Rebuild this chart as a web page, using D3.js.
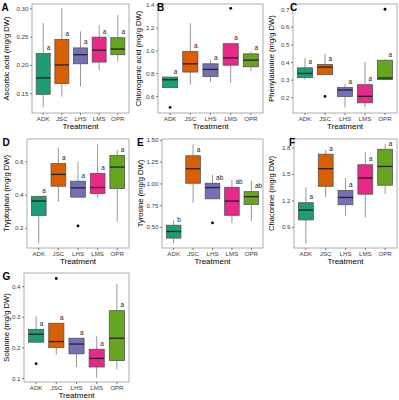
<!DOCTYPE html>
<html>
<head>
<meta charset="utf-8">
<script src="https://cdn.jsdelivr.net/npm/d3@7"></script>
<style>
  body { margin: 0; background: #fff; }
  svg { font-family: "Liberation Sans", Arial, sans-serif; }
</style>
</head>
<body>
<svg id="chart" width="399" height="400"></svg>
<script>
// treatments on every x axis
const treatments = ['ADK', 'JSC', 'LHS', 'LMS', 'OPR'];
const colors = ['#1B9E77', '#D95F02', '#7570B3', '#E7298A', '#66A61E'];

// box stats per treatment: [lower whisker, q1, median, q3, upper whisker]
const ascorbicStats = [
  [0.125, 0.148, 0.177, 0.220, 0.274],
  [0.144, 0.167, 0.200, 0.245, 0.300],
  [0.162, 0.202, 0.218, 0.230, 0.259],
  [0.191, 0.205, 0.226, 0.249, 0.270],
  [0.206, 0.218, 0.228, 0.248, 0.288]
];
const ascorbicOutliers = [[], [], [], [], []];
const ascorbicLetters = ['a', 'a', 'a', 'a', 'a'];

const chlorogenicStats = [
  [0.675, 0.675, 0.744, 0.767, 0.767],
  [0.700, 0.811, 0.883, 0.990, 1.238],
  [0.725, 0.771, 0.834, 0.883, 0.918],
  [0.716, 0.871, 0.935, 1.059, 1.059],
  [0.820, 0.857, 0.915, 0.970, 0.990]
];
const chlorogenicOutliers = [[0.502], [], [], [1.368], []];
const chlorogenicLetters = ['a', 'a', 'a', 'a', 'a'];

const phenylalanineStats = [
  [0.300, 0.311, 0.335, 0.367, 0.424],
  [0.328, 0.328, 0.371, 0.386, 0.446],
  [0.142, 0.204, 0.241, 0.255, 0.277],
  [0.142, 0.168, 0.205, 0.271, 0.400],
  [0.296, 0.300, 0.309, 0.410, 0.414]
];
const phenylalanineOutliers = [[], [0.204], [], [], [0.700]];
const phenylalanineLetters = ['a', 'a', 'a', 'a', 'a'];

const tryptophanStats = [
  [0.106, 0.275, 0.362, 0.390, 0.394],
  [0.357, 0.451, 0.522, 0.588, 0.684],
  [0.385, 0.385, 0.441, 0.481, 0.600],
  [0.380, 0.407, 0.443, 0.528, 0.704],
  [0.238, 0.437, 0.566, 0.636, 0.670]
];
const tryptophanOutliers = [[], [], [0.212], [], []];
const tryptophanLetters = ['a', 'a', 'a', 'a', 'a'];

const tyrosineStats = [
  [0.310, 0.371, 0.447, 0.519, 0.576],
  [0.778, 1.002, 1.169, 1.318, 1.451],
  [0.823, 0.823, 0.952, 1.002, 1.100],
  [0.545, 0.633, 0.797, 0.956, 1.040],
  [0.568, 0.759, 0.848, 0.905, 1.034]
];
const tyrosineOutliers = [[], [], [0.545], [], []];
const tyrosineLetters = ['b', 'a', 'ab', 'ab', 'ab'];

const chaconineStats = [
  [0.713, 0.979, 1.091, 1.174, 1.350],
  [1.238, 1.361, 1.560, 1.725, 1.774],
  [1.024, 1.151, 1.234, 1.313, 1.455],
  [1.005, 1.271, 1.455, 1.605, 1.748],
  [1.275, 1.373, 1.586, 1.781, 1.838]
];
const chaconineOutliers = [[], [], [], [], []];
const chaconineLetters = ['a', 'a', 'a', 'a', 'a'];

const solanineStats = [
  [0.217, 0.217, 0.243, 0.259, 0.302],
  [0.176, 0.199, 0.219, 0.279, 0.279],
  [0.136, 0.179, 0.211, 0.230, 0.231],
  [0.101, 0.136, 0.164, 0.194, 0.237],
  [0.128, 0.157, 0.230, 0.320, 0.407]
];
const solanineOutliers = [[0.147], [0.425], [], [], []];
const solanineLetters = ['a', 'a', 'a', 'a', 'a'];

// y tick labels
const ascorbicTicks = [0.15, 0.20, 0.25, 0.30];
const chlorogenicTicks = [0.6, 0.8, 1.0, 1.2, 1.4];
const phenylalanineTicks = [0.2, 0.3, 0.4, 0.5, 0.6, 0.7];
const tryptophanTicks = [0.2, 0.4, 0.6];
const tyrosineTicks = [0.50, 0.75, 1.00, 1.25, 1.50];
const chaconineTicks = [0.9, 1.2, 1.5, 1.8];
const solanineTicks = [0.1, 0.2, 0.3, 0.4];

const panels = [
  {tag: 'A', title: 'Ascorbic acid (mg/g DW)', stats: ascorbicStats, outliers: ascorbicOutliers, letters: ascorbicLetters, ticks: ascorbicTicks, fmt: '.2f', domain: [0.115, 0.3076], col: 0, row: 0, left: 32, tagX: 1.5, titleX: 9},
  {tag: 'B', title: 'Chlorogenic acid (mg/g DW)', stats: chlorogenicStats, outliers: chlorogenicOutliers, letters: chlorogenicLetters, ticks: chlorogenicTicks, fmt: '.1f', domain: [0.453, 1.406], col: 1, row: 0, left: 158, tagX: 157, titleX: 140.5},
  {tag: 'C', title: 'Phenylalanine (mg/g DW)', stats: phenylalanineStats, outliers: phenylalanineOutliers, letters: phenylalanineLetters, ticks: phenylalanineTicks, fmt: '.1f', domain: [0.11, 0.73], col: 2, row: 0, left: 293, tagX: 290, titleX: 273.5},
  {tag: 'D', title: 'Tryptophan (mg/g DW)', stats: tryptophanStats, outliers: tryptophanOutliers, letters: tryptophanLetters, ticks: tryptophanTicks, fmt: '.1f', domain: [0.079, 0.735], col: 0, row: 1, left: 27, tagX: 2.5, titleX: 9},
  {tag: 'E', title: 'Tyrosine (mg/g DW)', stats: tyrosineStats, outliers: tyrosineOutliers, letters: tyrosineLetters, ticks: tyrosineTicks, fmt: '.2f', domain: [0.257, 1.511], col: 1, row: 1, left: 162, tagX: 137, titleX: 142.5},
  {tag: 'F', title: 'Chaconine (mg/g DW)', stats: chaconineStats, outliers: chaconineOutliers, letters: chaconineLetters, ticks: chaconineTicks, fmt: '.1f', domain: [0.66, 1.8975], col: 2, row: 1, left: 294, tagX: 289, titleX: 273.5},
  {tag: 'G', title: 'Solanine (mg/g DW)', stats: solanineStats, outliers: solanineOutliers, letters: solanineLetters, ticks: solanineTicks, fmt: '.1f', domain: [0.087, 0.443], col: 0, row: 2, left: 24, tagX: 2.5, titleX: 9}
];

const colX = [0, 134, 268];
const rowY = [0, 135, 269];
const svg = d3.select('#chart');

const drawPanel = (p) => {
  const cx = colX[p.col];
  const cy = rowY[p.row];
  const left = p.left;
  const right = cx + 129;
  const top = cy + 4;
  const bottom = cy + 113;

  const x = d3.scaleBand()
    .domain(treatments)
    .range([left, right])
    .paddingOuter(0.1)
    .paddingInner(0);
  const bw = x.bandwidth() * 0.75;
  const y = d3.scaleLinear().domain(p.domain).range([bottom, top]);

  const g = svg.append('g').attr('class', 'panel');

  // frame
  g.append('rect')
    .attr('x', left).attr('y', top)
    .attr('width', right - left).attr('height', bottom - top)
    .attr('fill', 'none')
    .attr('stroke', '#9a9a9a')
    .attr('stroke-width', 0.8);

  // y axis
  const yAxis = g.append('g')
    .attr('transform', `translate(${left},0)`)
    .call(d3.axisLeft(y).tickValues(p.ticks).tickFormat(d3.format(p.fmt)).tickSize(2).tickPadding(1.5));
  yAxis.select('.domain').remove();
  yAxis.selectAll('line').attr('stroke', '#333').attr('stroke-width', 0.6);
  yAxis.selectAll('text').attr('font-size', 6.2).attr('fill', '#3d3d3d').attr('font-family', null);

  // x axis
  const xAxis = g.append('g')
    .attr('transform', `translate(0,${bottom})`)
    .call(d3.axisBottom(x).tickSize(2).tickPadding(1.5));
  xAxis.select('.domain').remove();
  xAxis.selectAll('line').attr('stroke', '#333').attr('stroke-width', 0.6);
  xAxis.selectAll('text').attr('font-size', 6.2).attr('fill', '#3d3d3d').attr('font-family', null);

  // axis titles
  g.append('text')
    .attr('x', (left + right) / 2)
    .attr('y', bottom + 16)
    .attr('text-anchor', 'middle')
    .attr('font-size', 8)
    .text('Treatment');
  g.append('text')
    .attr('transform', `translate(${p.titleX},${(top + bottom) / 2}) rotate(-90)`)
    .attr('text-anchor', 'middle')
    .attr('font-size', 7.6)
    .text(p.title);

  // boxes
  const boxes = g.selectAll('g.box')
    .data(treatments.map((t, i) => ({t, i, s: p.stats[i], out: p.outliers[i], letter: p.letters[i]})))
    .enter()
    .append('g')
    .classed('box', true)
    .attr('transform', (d) => `translate(${x(d.t) + x.bandwidth() / 2},0)`);

  boxes.append('line')
    .attr('y1', (d) => y(d.s[0])).attr('y2', (d) => y(d.s[1]))
    .attr('stroke', '#8c8c8c').attr('stroke-width', 0.9);
  boxes.append('line')
    .attr('y1', (d) => y(d.s[3])).attr('y2', (d) => y(d.s[4]))
    .attr('stroke', '#8c8c8c').attr('stroke-width', 0.9);
  boxes.append('rect')
    .attr('x', -bw / 2)
    .attr('width', bw)
    .attr('y', (d) => y(d.s[3]))
    .attr('height', (d) => y(d.s[1]) - y(d.s[3]))
    .attr('fill', (d) => colors[d.i])
    .attr('stroke', '#555')
    .attr('stroke-width', 0.8);
  boxes.append('line')
    .attr('x1', -bw / 2).attr('x2', bw / 2)
    .attr('y1', (d) => y(d.s[2])).attr('y2', (d) => y(d.s[2]))
    .attr('stroke', '#222').attr('stroke-width', 1.3);
  boxes.selectAll('circle')
    .data((d) => d.out)
    .enter()
    .append('circle')
    .attr('cy', (v) => y(v))
    .attr('r', 1.4)
    .attr('fill', '#000');
  boxes.append('text')
    .attr('x', 3.6)
    .attr('y', (d) => y(d.s[3]) - 3.5)
    .attr('font-size', 6.4)
    .attr('fill', '#222')
    .text((d) => d.letter);

  // panel tag
  g.append('text')
    .attr('x', p.tagX)
    .attr('y', top + 7)
    .attr('font-size', 10)
    .attr('font-weight', 'bold')
    .text(p.tag);
};

panels.forEach(drawPanel);
</script>
</body>
</html>
